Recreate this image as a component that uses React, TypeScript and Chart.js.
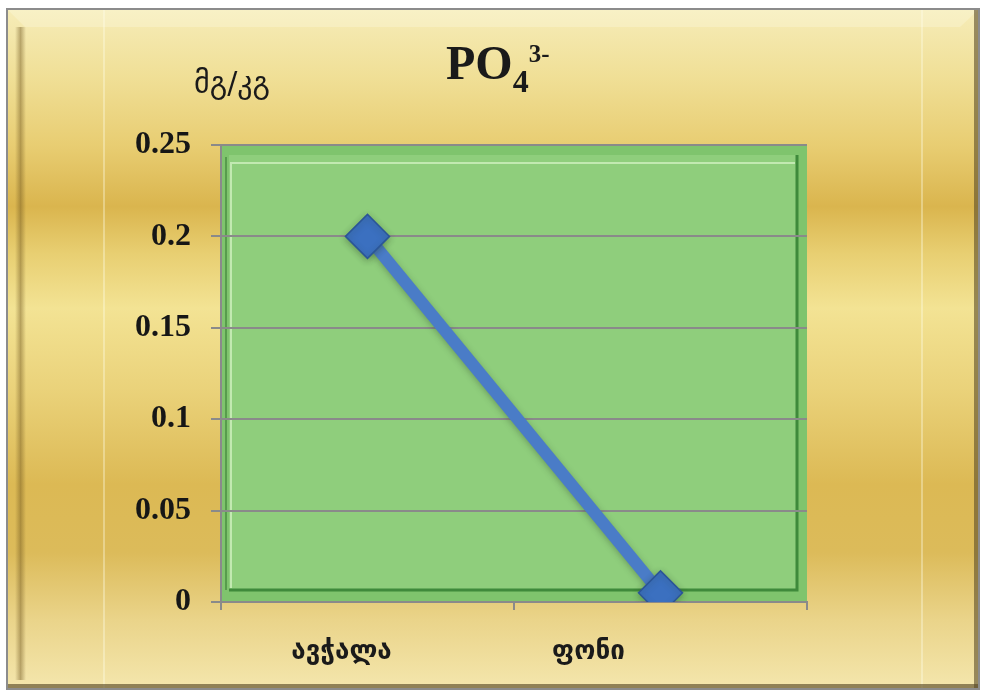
import React, { useEffect, useRef } from "react";
import { Chart, registerables } from "chart.js";

Chart.register(...registerables);

const categories = ["ავჭალა", "ფონი"];
const values = [0.2, 0.005];
const yTickLabels = ["0", "0.05", "0.1", "0.15", "0.2", "0.25"];
const yUnit = "მგ/კგ";
const titleMain = "PO";
const titleSub = "4";
const titleSup = "3-";

const W = 984;
const H = 697;
const xLabelNudge = [-26, -72];

const bgPlugin = {
  id: "bgPlugin",
  beforeDraw(chart: any) {
    const ctx = chart.ctx as CanvasRenderingContext2D;
    const ca = chart.chartArea;
    ctx.save();
    ctx.fillStyle = "#ffffff";
    ctx.fillRect(0, 0, W, H);
    // gold frame
    const fx = 8, fy = 10, fw = 970, fh = 678;
    const g = ctx.createLinearGradient(0, fy, 0, fy + fh);
    g.addColorStop(0.0, "#f6ecb8");
    g.addColorStop(0.1, "#f0df96");
    g.addColorStop(0.2, "#e8cd72");
    g.addColorStop(0.29, "#dab54e");
    g.addColorStop(0.36, "#e8cf72");
    g.addColorStop(0.44, "#f3e394");
    g.addColorStop(0.56, "#ead27a");
    g.addColorStop(0.7, "#dcb954");
    g.addColorStop(0.8, "#dcbb5a");
    g.addColorStop(0.9, "#ead48a");
    g.addColorStop(1.0, "#f4e6ac");
    ctx.fillStyle = g;
    ctx.fillRect(fx, fy, fw, fh);
    // faint vertical light lines
    ctx.fillStyle = "rgba(255,255,235,0.35)";
    ctx.fillRect(103, fy, 2, fh);
    ctx.fillRect(921, fy, 2, fh);
    // top bevel highlight
    ctx.fillStyle = "rgba(255,255,240,0.25)";
    ctx.beginPath();
    ctx.moveTo(fx, fy);
    ctx.lineTo(fx + fw, fy);
    ctx.lineTo(fx + fw - 18, fy + 17);
    ctx.lineTo(fx + 17, fy + 17);
    ctx.closePath();
    ctx.fill();
    // left shadow strip
    const lg = ctx.createLinearGradient(15, 0, 26, 0);
    lg.addColorStop(0, "rgba(110,85,30,0.0)");
    lg.addColorStop(0.5, "rgba(110,85,30,0.45)");
    lg.addColorStop(1, "rgba(110,85,30,0.0)");
    ctx.fillStyle = lg;
    ctx.fillRect(15, fy + 17, 11, fh - 25);
    // bottom dark edge
    ctx.fillStyle = "rgba(90,75,40,0.65)";
    ctx.fillRect(fx, fy + fh - 4, fw, 4);
    // right dark edge
    ctx.fillStyle = "rgba(90,75,40,0.6)";
    ctx.fillRect(fx + fw - 4, fy, 4, fh);
    // outer border
    ctx.strokeStyle = "#8c8c8c";
    ctx.lineWidth = 2;
    ctx.strokeRect(fx - 1, fy - 1, fw + 2, fh + 2);

    // green plot panel
    const l = ca.left, t = ca.top, r = ca.right, b = ca.bottom;
    ctx.fillStyle = "#7fc46d";
    ctx.fillRect(l, t, r - l, b - t);
    ctx.fillStyle = "#8fce7c";
    ctx.fillRect(l + 8, t + 10, r - l - 18, b - t - 22);
    // highlight top/left
    ctx.strokeStyle = "rgba(215,245,200,0.7)";
    ctx.lineWidth = 2;
    ctx.beginPath();
    ctx.moveTo(l + 10, b - 14);
    ctx.lineTo(l + 10, t + 18);
    ctx.lineTo(r - 12, t + 18);
    ctx.stroke();
    // dark bottom/right
    ctx.strokeStyle = "#3f8a3b";
    ctx.lineWidth = 3;
    ctx.beginPath();
    ctx.moveTo(l + 8, b - 12);
    ctx.lineTo(r - 10, b - 12);
    ctx.lineTo(r - 10, t + 10);
    ctx.stroke();
    ctx.strokeStyle = "rgba(60,130,55,0.6)";
    ctx.lineWidth = 2;
    ctx.beginPath();
    ctx.moveTo(l + 5, t + 12);
    ctx.lineTo(l + 5, b - 12);
    ctx.stroke();
    ctx.restore();
  },
  beforeDatasetsDraw(chart: any) {
    const ctx = chart.ctx as CanvasRenderingContext2D;
    ctx.save();
    ctx.shadowColor = "rgba(40,60,40,0.35)";
    ctx.shadowBlur = 6;
    ctx.shadowOffsetY = 2;
  },
  afterDatasetsDraw(chart: any) {
    chart.ctx.restore();
  },
  afterDraw(chart: any) {
    const ctx = chart.ctx as CanvasRenderingContext2D;
    ctx.save();
    ctx.fillStyle = "#1a1a1a";
    ctx.textBaseline = "alphabetic";
    ctx.textAlign = "left";
    // title
    ctx.font = 'bold 48px "Liberation Serif"';
    let x = 446;
    ctx.fillText(titleMain, x, 79);
    x += ctx.measureText(titleMain).width;
    ctx.font = 'bold 32px "Liberation Serif"';
    ctx.fillText(titleSub, x, 92);
    x += ctx.measureText(titleSub).width;
    ctx.font = 'bold 25px "Liberation Serif"';
    ctx.fillText(titleSup, x, 62);
    // y unit
    ctx.font = '30px "DejaVu Sans"';
    ctx.textAlign = "center";
    ctx.fillText(yUnit, 232, 93);
    // x labels
    const xs = chart.scales.x;
    ctx.font = 'bold 26px "DejaVu Sans"';
    categories.forEach((c, i) => {
      const px = xs.getPixelForValue(i) + xLabelNudge[i];
      ctx.fillText(c, px, 659);
    });
    ctx.restore();
  },
};

export default function App() {
  const ref = useRef<HTMLCanvasElement>(null);
  useEffect(() => {
    const canvas = ref.current!;
    const chart = new Chart(canvas, {
      type: "line",
      data: {
        labels: categories,
        datasets: [
          {
            data: values,
            borderColor: "#4a7cc7",
            borderWidth: 12,
            pointStyle: "rectRot",
            pointRadius: 22,
            pointHoverRadius: 22,
            pointBackgroundColor: "#3b70c0",
            pointBorderColor: "#2b5597",
            pointBorderWidth: 1.5,
            tension: 0,
          },
        ],
      },
      options: {
        animation: false,
        responsive: false,
        events: [],
        layout: { padding: { left: 100, right: 177, top: 145, bottom: 0 } },
        plugins: {
          legend: { display: false },
          title: { display: false },
          tooltip: { enabled: false },
        },
        scales: {
          x: {
            type: "category",
            offset: true,
            grid: {
              offset: true,
              drawOnChartArea: false,
              drawTicks: true,
              tickLength: 8,
              color: "#8a8a8a",
              lineWidth: 2,
            },
            border: { display: true, color: "#8a8a8a", width: 2 },
            ticks: { display: false },
            afterFit: (s: any) => {
              s.height = 95;
            },
          },
          y: {
            min: 0,
            max: 0.25,
            ticks: {
              stepSize: 0.05,
              padding: 20,
              color: "#161616",
              font: { family: "Liberation Serif", weight: "bold", size: 32 },
              callback: (_v: any, i: number) => yTickLabels[i],
            },
            grid: {
              color: "#8a8a8a",
              lineWidth: 2,
              tickLength: 10,
            },
            border: { display: true, color: "#8a8a8a", width: 2 },
            afterFit: (s: any) => {
              s.width = 121;
            },
          },
        },
      },
      plugins: [bgPlugin],
    } as any);
    return () => chart.destroy();
  }, []);
  return (
    <div style={{ position: "fixed", left: 0, top: 0, width: W, height: H }}>
      <canvas ref={ref} width={W} height={H} style={{ width: W, height: H, display: "block" }} />
    </div>
  );
}
